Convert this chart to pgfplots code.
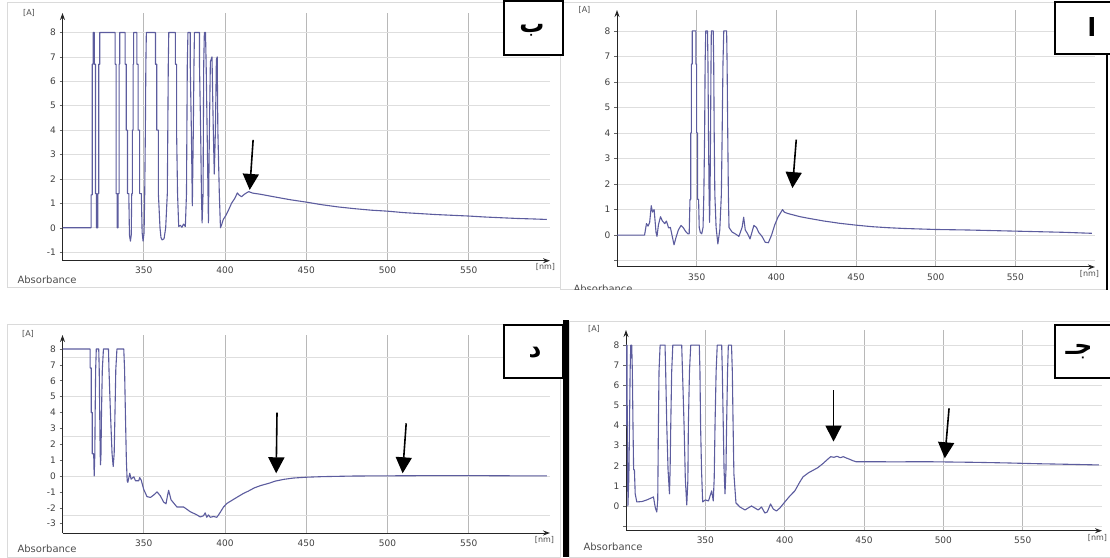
\documentclass[border=0pt]{standalone}
\usepackage{fontspec}
\setmainfont{DejaVu Sans}
\newfontfamily\arabicfont[Script=Arabic]{DejaVu Sans}
\TeXXeTstate=1
\usepackage{pgfplots}
\pgfplotsset{compat=1.18}
\usetikzlibrary{arrows.meta}
\definecolor{spec}{RGB}{92,92,158}
\definecolor{framegray}{RGB}{218,218,218}

\pgfplotsset{panel/.style={
  scale only axis, anchor=south west,
  xmin=300, xmax=600,
  axis x line=bottom, axis y line=left,
  axis line style={draw=black!85, line width=1pt, -{Stealth[length=7pt,width=5pt]}},
  xtick={350,400,450,500,550},
  xtick style={draw=none},
  ytick style={draw=black!60, line width=0.5pt},
  tick align=outside, major tick length=3pt,
  xmajorgrids=true, ymajorgrids=true,
  x grid style={draw=black!28, line width=0.8pt},
  y grid style={draw=black!13, line width=0.8pt},
  tick label style={font=\fontsize{9}{10}\selectfont, text=black!75},
  /pgf/number format/assume math mode=true,
}}
\tikzset{spec line/.style={color=spec, line width=1.1pt, mark=none, line join=round},
  ann/.style={draw=black, line width=1.6pt, -{Triangle[width=16pt,length=16pt]}},
  smalltxt/.style={font=\fontsize{8}{9}\selectfont, text=black!70},
  abstxt/.style={font=\fontsize{10}{12}\selectfont, text=black!70, anchor=west},
  letterbox/.style={draw=black, line width=1.6pt, fill=white},
  letter/.style={font=\arabicfont\bfseries\fontsize{25}{30}\selectfont}}

\begin{document}
\begin{tikzpicture}
\useasboundingbox (0,0) rectangle (1110pt,557pt);
% panel frames
\draw[framegray, line width=1pt] (7pt,269pt) rectangle (560pt,554pt);
\draw[framegray, line width=1pt] (560pt,267pt) rectangle (1107pt,554pt);
\draw[framegray, line width=1pt] (7pt,0pt) rectangle (560pt,232pt);
\draw[framegray, line width=1pt] (569pt,0pt) rectangle (1110pt,235pt);

% ---------------- top left (ب)
\begin{axis}[panel, at={(62.5pt,296.3pt)}, width=487.5pt, height=247.7pt,
  ymin=-1.35, ymax=8.8, ytick={-1,0,...,8}]
\addplot[spec line] table {
x y
300 0
317.6 0
317.6 1.35
318.3 1.35
318.3 6.7
318.8 6.7
318.8 8
319.6 8
319.6 6.7
320.3 6.7
320.3 1.4
320.9 1.4
320.9 0
321.7 0
321.7 1.4
322.3 1.4
322.3 6.7
322.9 6.7
322.9 8
332.4 8
332.4 6.7
333.0 6.7
333.0 1.4
333.6 1.4
333.6 0
334.2 0
334.2 1.4
334.8 1.4
334.8 6.7
335.2 6.7
335.2 8
338.5 8
338.5 6.7
339.2 6.7
339.2 4
340 4
340 1.4
340.8 1.4
341.2 -0.3
341.8 -0.55
342.3 -0.3
342.6 1.4
343 1.4
343 4
343.5 4
343.5 6.7
343.8 6.7
343.8 8
345.8 8
345.8 6.7
346.5 6.7
346.5 4
347.5 4
347.5 1.4
348.5 1.4
349 -0.2
349.6 -0.55
350.2 -0.2
350.6 1.4
351 4
351.3 6.7
351.6 8
357.2 8
357.2 6.7
358 6.7
358 4
359 4
359 1.4
360 0
360.6 -0.4
361.3 -0.5
362.5 -0.45
363.5 0
364.5 1.4
364.8 4
365.1 6.7
365.4 8
369.5 8
369.5 6.7
370.2 6.7
370.2 4
370.8 1.4
371.5 0.05
372.5 0.1
373.5 0.02
374.5 0.15
375.6 0.05
376.3 1.4
376.8 6.7
377.2 8
378.6 8
378.6 6.7
379.3 4
379.9 0.9
380.5 4
380.9 6.7
381.2 8
384.3 8
384.3 6.7
385 4
385.5 1.4
385.9 0.2
386.5 1.4
386.9 6.7
387.3 8
388 8
388.4 6.7
389 4
389.8 0.2
390.4 4
391 6.8
392 7.0
392.8 4
393.4 2.2
394.1 4
394.7 6.9
395.2 7.0
395.6 4
396.5 1.4
397.2 0
397.8 0.1
399 0.35
400.5 0.5
402 0.7
404 1.0
406 1.2
407.6 1.43
408.5 1.35
410.2 1.27
411.5 1.35
413 1.42
414.6 1.48
417 1.42
419 1.4
422 1.37
430 1.27
440 1.15
450 1.05
460 0.94
470 0.85
480 0.78
490 0.72
500 0.68
510 0.62
520 0.58
530 0.54
540 0.51
550 0.48
560 0.44
570 0.41
580 0.38
590 0.36
598 0.34
};
\draw[ann] (axis cs:417.3,3.6) -- (axis cs:415.2,1.55);
\end{axis}

% ---------------- top right (ا)
\begin{axis}[panel, at={(617pt,290pt)}, width=478pt, height=257pt,
  ymin=-1.25, ymax=8.82, ytick={-1,0,...,8}, yticklabels={,0,1,2,3,4,5,6,7,8}]
\addplot[spec line] table {
x y
300 0
317.3 0
318.5 0.45
319.5 0.35
320.5 0.5
321.5 1.15
322.3 0.9
323.3 1.0
324.5 0.1
325.1 -0.05
326 0.4
327.3 0.72
328.5 0.55
330 0.45
331 0.55
332.4 0.28
333.5 0.3
334.5 0.0
335.8 -0.38
337 -0.1
338.5 0.2
340.2 0.38
341.5 0.3
343 0.15
344.5 0.05
345.3 0.05
345.8 1.4
346.3 1.4
346.3 4
346.7 4
346.7 6.7
347.2 6.7
347.2 8
349.5 8
349.5 6.7
350 6.7
350 4
350.6 4
350.6 1.4
351.2 1.4
351.6 0.3
352.3 0.1
353.2 0.05
354 0.3
354.5 1.6
355 4
355.3 6.7
355.7 8
356.8 8
357.1 6.7
357.4 4
357.8 1.6
358.1 0.5
358.4 1.6
358.7 4
359 6.7
359.2 8
360.4 8
360.7 6.7
361 4
361.4 1.6
362.2 0.3
363.3 -0.35
364.5 0.2
365.5 1.6
366 4
366.5 6.7
367 8
368.8 8
369.1 6.7
369.5 4
369.9 1.6
370.3 0.3
372.2 0.12
374.2 0.05
376.5 -0.05
378.5 0.3
379.5 0.7
380.5 0.2
382 0.05
383.5 -0.15
385.9 0.38
387.5 0.3
389 0.1
391 -0.05
393 -0.28
395 -0.3
397 0.0
399 0.4
401 0.7
403.9 1.0
405 0.9
407 0.85
410 0.8
415 0.72
420 0.66
430 0.55
440 0.46
450 0.39
460 0.33
470 0.29
480 0.26
490 0.24
500 0.22
520 0.2
540 0.17
560 0.14
580 0.11
598 0.07
};
\draw[ann] (axis cs:412.5,3.74) -- (axis cs:410.1,1.84);
\end{axis}

% ---------------- bottom left (د)
\begin{axis}[panel, at={(62.5pt,24pt)}, width=487.5pt, height=198pt,
  ymin=-3.59, ymax=8.88, ytick={-3,-2,...,8}, ymajorgrids=false,
  extra y ticks={-2.5,0,2.5,5,7.5}, extra y tick labels={},
  extra y tick style={ymajorgrids=true, major tick length=0pt}]
\addplot[spec line] table {
x y
300 8
317 8
317 6.8
317.7 6.8
317.7 4
318.3 4
318.3 1.4
319.2 1.4
319.5 0
319.9 1.4
320.1 4
320.4 6.7
320.8 8
322.3 8
322.6 6.7
322.9 4
323.2 1.4
323.4 0.7
323.7 1.4
324 4
324.5 6.7
325.2 8
328.3 8
328.6 6.7
329.5 4
330.5 1.4
331.2 0.6
331.8 1.4
332.3 4
332.8 6.7
333.5 8
337.7 8
338.2 6.7
338.7 4
339.3 1.0
339.8 -0.3
340.2 -0.4
341.4 0.17
342.2 -0.2
343.9 -0.05
344.9 -0.3
346.9 -0.3
347.5 -0.1
348.4 -0.25
350 -0.85
352 -1.3
354.1 -1.35
356.1 -1.2
358.2 -1.0
360.2 -1.25
362.3 -1.65
363.7 -1.75
364.5 -1.3
365.3 -0.9
366.8 -1.5
368.4 -1.7
370.4 -1.95
374.5 -1.95
376.6 -2.1
378.6 -2.25
380.7 -2.35
382.7 -2.45
384.8 -2.58
386.8 -2.5
387.8 -2.32
388.8 -2.6
389.8 -2.45
390.9 -2.6
393 -2.55
395 -2.6
397 -2.3
399.1 -1.95
401.3 -1.72
403.2 -1.6
407.2 -1.35
411.3 -1.1
414.4 -0.95
418 -0.75
422 -0.6
427.3 -0.45
431 -0.32
436.3 -0.21
442 -0.13
449.4 -0.08
460 -0.04
470 -0.02
480 0
500 0.01
520 0.02
540 0.02
560 0.02
580 0.01
598 0.01
};
\draw[ann] (axis cs:432,3.99) -- (axis cs:431.5,0.17);
\draw[ann] (axis cs:511.5,3.32) -- (axis cs:509.3,0.17);
\end{axis}

% ---------------- bottom right (ج)
\begin{axis}[panel, at={(626pt,26.3pt)}, width=476pt, height=200.7pt,
  ymin=-1.23, ymax=8.75, ytick={-1,0,...,8}, yticklabels={,0,1,2,3,4,5,6,7,8}]
\addplot[spec line] table {
x y
300 4
300.2 8
300.6 8
300.8 4
301.2 0
301.8 1.4
302.2 4
302.6 6.7
303 8
303.6 8
304 6.7
304.4 4
304.8 1.8
305.3 1.8
305.8 0.6
306.8 0.2
310 0.22
313.1 0.3
316 0.4
317.3 0.45
318.5 -0.1
319.4 -0.3
320 0.3
320.4 3.8
320.8 6.7
321.5 8
324.6 8
325 6.7
325.7 4
326.5 1.8
327.4 0.6
327.8 1.8
328.2 4
328.8 6.7
329.5 8
335.1 8
335.6 6.7
336.6 4
337.4 1.3
338.3 0.05
339 1.3
339.3 4
340 6.7
340.8 8
346.2 8
346.6 6.7
347 4
347.6 1.8
348.3 0.2
350 0.3
352 0.25
353.2 0.55
354 0.75
354.6 0.45
355 0.25
355.6 1.4
356.1 4
356.8 6.7
357.5 8
360.3 8
360.7 6.7
361.3 4
361.8 1.8
362.4 0.6
363 1.8
363.4 4
364 6.7
364.5 8
366.5 8
367 6.7
367.5 4
368 1.6
369.3 0.15
371.8 -0.05
375 -0.2
377 -0.1
379.1 0
381.2 -0.1
383.3 -0.2
385.4 -0.05
387.5 -0.35
389 -0.3
391.1 0.1
392.8 -0.15
394.8 -0.25
397 -0.1
400.1 0.2
403.3 0.5
406.4 0.75
409.6 1.2
411.6 1.45
415 1.65
420.8 1.9
424 2.1
427.5 2.35
429 2.45
431 2.42
433 2.47
435 2.4
437 2.45
439 2.38
441 2.32
443 2.25
445 2.2
450 2.2
460 2.2
470 2.19
480 2.2
490 2.2
500 2.19
520 2.17
540 2.14
560 2.1
580 2.07
598 2.04
};
\draw[ann] (axis cs:430.8,5.76) -- (axis cs:430.8,3.2);
\draw[ann] (axis cs:503.6,4.85) -- (axis cs:500.9,2.37);
\end{axis}

% texts around the axes
\node[smalltxt] at (29pt,544pt) {[A]};
\node[smalltxt] at (545.5pt,290pt) {[nm]};
\node[abstxt] at (14pt,277pt) {Absorbance};
\node[smalltxt] at (584.5pt,547pt) {[A]};
\node[smalltxt] at (1089.5pt,283pt) {[nm]};
\begin{scope}
\clip (560pt,267pt) rectangle (1107pt,278pt);
\node[abstxt] at (570pt,268pt) {Absorbance};
\end{scope}
\node[smalltxt] at (28pt,223pt) {[A]};
\node[smalltxt] at (544.5pt,17pt) {[nm]};
\node[abstxt] at (14pt,8pt) {Absorbance};
\node[smalltxt] at (594pt,228pt) {[A]};
\node[smalltxt] at (1097.5pt,19pt) {[nm]};
\node[abstxt] at (580pt,10pt) {Absorbance};

% black edges
\fill[black] (563pt,0pt) rectangle (569pt,237pt);
\draw[black, line width=2pt] (1107pt,267pt) -- (1107pt,502pt);

% letter boxes
\draw[letterbox] (504pt,502pt) rectangle (563pt,556pt);
\node[letter] at (532pt,527pt) {\beginR ب\endR};
\draw[letterbox] (1055pt,503pt) rectangle (1112pt,555pt);
\node[letter] at (1092pt,530pt) {\beginR ا\endR};
\draw[letterbox] (504pt,179pt) rectangle (563pt,232pt);
\node[letter] at (535pt,204pt) {\beginR د\endR};
\draw[letterbox] (1055pt,179pt) rectangle (1112pt,232pt);
\node[letter] at (1079pt,205pt) {\beginR جـ\endR};
\end{tikzpicture}
\end{document}
